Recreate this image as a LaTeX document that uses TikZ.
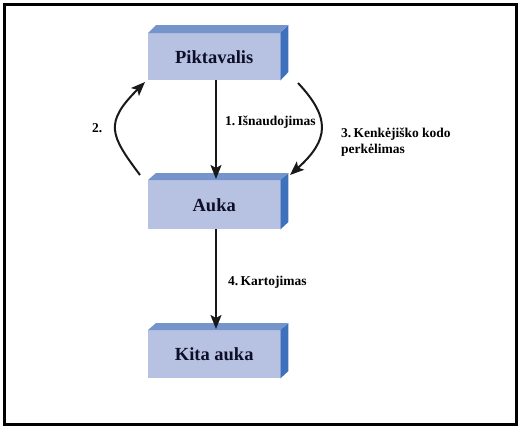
\documentclass[tikz,border=0pt]{standalone}
\usepackage{fontspec}
\setmainfont{Liberation Serif}
\usetikzlibrary{arrows.meta}
\definecolor{frontc}{RGB}{183,194,226}
\definecolor{topc}{RGB}{118,148,204}
\definecolor{sidec}{RGB}{62,112,188}
\definecolor{txtc}{RGB}{14,14,40}
\tikzset{
  boxface/.style={fill=frontc, minimum width=132pt, minimum height=47pt, inner sep=0pt, anchor=north west,
    font=\fontsize{18.5}{20}\selectfont\bfseries, text=txtc},
  lbl/.style={font=\fontsize{13.5}{16.5}\selectfont\bfseries, inner sep=0pt, anchor=west, text=black, align=left},
  arr/.style={line width=2pt, draw=black!90, -{Stealth[length=14pt,width=11pt,inset=3pt]}}
}
\begin{document}
\begin{tikzpicture}[x=1pt,y=-1pt]
\useasboundingbox (0,0) rectangle (522,432);
\fill[white] (0,0) rectangle (522,432);
\draw[line width=3pt] (4,4) rectangle (516,424);

\node[boxface] (P) at (148,33) {Piktavalis};
\fill[topc] (P.north west) -- ++(8,-8) -- ++(132,0) -- (P.north east) -- cycle;
\fill[sidec] (P.north east) -- ++(8,-8) -- ++(0,47) -- (P.south east) -- cycle;
\node[boxface, minimum height=49pt] (A) at (148,180) {Auka};
\fill[topc] (A.north west) -- ++(8,-7) -- ++(132,0) -- (A.north east) -- cycle;
\fill[sidec] (A.north east) -- ++(8,-7) -- ++(0,49) -- (A.south east) -- cycle;
\node[boxface, minimum height=48pt] (K) at (148,330) {Kita auka};
\fill[topc] (K.north west) -- ++(8,-7) -- ++(132,0) -- (K.north east) -- cycle;
\fill[sidec] (K.north east) -- ++(8,-7) -- ++(0,48) -- (K.south east) -- cycle;

\coordinate (p1) at (216,80);
\coordinate (a1) at (216,179);
\coordinate (a2) at (216,229);
\coordinate (k1) at (216,329);
\draw[arr] (p1) -- (a1);
\draw[arr] (a2) -- (k1);

\coordinate (l0) at (140,175);
\coordinate (l1) at (145,82);
\draw[arr] (l0) .. controls (110,135) and (104,123) .. (l1);
\coordinate (r0) at (298,83);
\coordinate (r1) at (290,175);
\draw[arr] (r0) .. controls (331,118) and (329,140) .. (r1);

\node[lbl] (t1) at (225,122) {1.\,Išnaudojimas};
\node[lbl] (t2) at (92,128) {2.};
\node[lbl] (t3) at (341,142) {3.\,Kenkėjiško kodo\\perkėlimas};
\node[lbl] (t4) at (228,282) {4.\,Kartojimas};
\end{tikzpicture}
\end{document}
